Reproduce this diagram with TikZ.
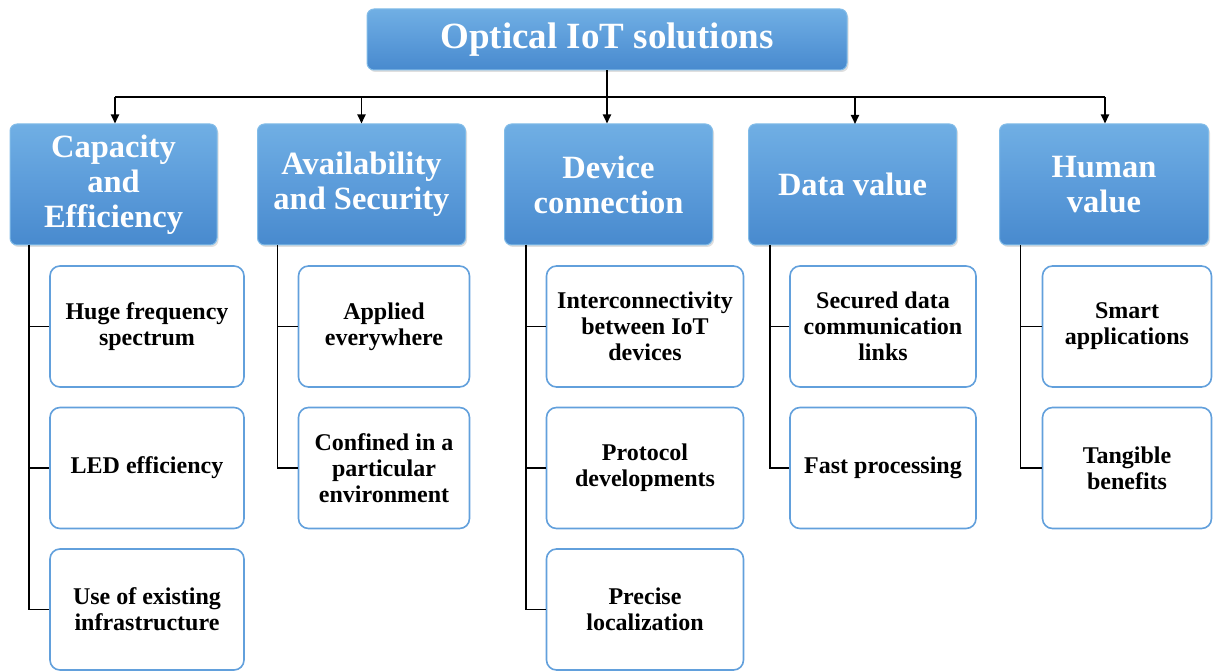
\documentclass[tikz,border=0pt]{standalone}
\usepackage{fontspec}
\setmainfont{Liberation Serif}
\usetikzlibrary{arrows.meta,shadows}
\definecolor{hdrtop}{RGB}{112,175,228}
\definecolor{hdrbot}{RGB}{72,138,206}
\definecolor{hdredge}{RGB}{130,188,232}
\definecolor{kidedge}{RGB}{98,160,220}
\tikzset{
  hdr/.style={rounded corners=7pt, top color=hdrtop, bottom color=hdrbot, middle color={rgb,255:red,92;green,156;blue,218}, draw=hdredge, line width=1pt,
    text=white, font=\bfseries\fontsize{32.5}{35}\selectfont, align=center, inner sep=0pt,
    drop shadow={opacity=0.25, shadow xshift=1.5pt, shadow yshift=-2pt}},
  kid/.style={rounded corners=10pt, fill=white, draw=kidedge, line width=1.6pt,
    text=black, font=\bfseries\fontsize{24}{26}\selectfont, align=center, inner sep=0pt,
    minimum height=121pt},
  conn/.style={line width=1.8pt, black},
  arr/.style={conn, -{Triangle[width=8pt,length=9pt]}}
}
\begin{document}
\begin{tikzpicture}[x=1pt,y=-1pt]
\useasboundingbox (0,0) rectangle (1213,671);
% top
\node[hdr, minimum width=480pt, minimum height=61pt, font=\bfseries\fontsize{37}{40}\selectfont] (top) at (607,39.5) {Optical IoT solutions};
% categories
\node[hdr, minimum width=207pt, minimum height=121pt] (cat1) at (113.5,184.5) {Capacity\\and\\Efficiency};
\node[hdr, minimum width=208pt, minimum height=121pt] (cat2) at (361.5,184.5) {Availability\\and Security};
\node[hdr, minimum width=208pt, minimum height=121pt] (cat3) at (608.5,184.5) {Device\\connection};
\node[hdr, minimum width=208pt, minimum height=121pt] (cat4) at (852.5,184.5) {Data value};
\node[hdr, minimum width=209pt, minimum height=121pt] (cat5) at (1104,184.5) {Human\\value};
% children
\node[kid, minimum width=194pt] (c11) at (147,326.5) {Huge frequency\\spectrum};
\node[kid, minimum width=194pt] (c12) at (147,468) {LED efficiency};
\node[kid, minimum width=194pt] (c13) at (147,609.5) {Use of existing\\infrastructure};
\node[kid, minimum width=171pt] (c21) at (384,326.5) {Applied\\everywhere};
\node[kid, minimum width=171pt] (c22) at (384,468) {Confined in a\\particular\\environment};
\node[kid, minimum width=197pt] (c31) at (645,326.5) {Interconnectivity\\between IoT\\devices};
\node[kid, minimum width=197pt] (c32) at (645,468) {Protocol\\developments};
\node[kid, minimum width=197pt] (c33) at (645,609.5) {Precise\\localization};
\node[kid, minimum width=186pt] (c41) at (883,326.5) {Secured data\\communication\\links};
\node[kid, minimum width=186pt] (c42) at (883,468) {Fast processing};
\node[kid, minimum width=169pt] (c51) at (1127,326.5) {Smart\\applications};
\node[kid, minimum width=169pt] (c52) at (1127,468) {Tangible\\benefits};
% bus
\coordinate (busL) at (115,97);
\coordinate (busR) at (1105,97);
\draw[conn] (busL) -- (busR);
\draw[arr] (top.south) -- (top.south |- cat3.north);
\draw[arr] (busL) -- (busL |- cat1.north);
\draw[arr] (cat2.north |- busL) -- (cat2.north);
\draw[arr] (855,97) -- (855,124);
\draw[arr] (busR) -- (busR |- cat5.north);
% spines
\coordinate (s1) at (29,245);
\coordinate (s2) at (277.5,245);
\coordinate (s3) at (526,245);
\coordinate (s4) at (770,245);
\coordinate (s5) at (1020.5,245);
\draw[conn] (s1) |- (c11.west);
\draw[conn] (s1) |- (c12.west);
\draw[conn] (s1) |- (c13.west);
\draw[conn] (s2) |- (c21.west);
\draw[conn] (s2) |- (c22.west);
\draw[conn] (s3) |- (c31.west);
\draw[conn] (s3) |- (c32.west);
\draw[conn] (s3) |- (c33.west);
\draw[conn] (s4) |- (c41.west);
\draw[conn] (s4) |- (c42.west);
\draw[conn] (s5) |- (c51.west);
\draw[conn] (s5) |- (c52.west);
\end{tikzpicture}
\end{document}
